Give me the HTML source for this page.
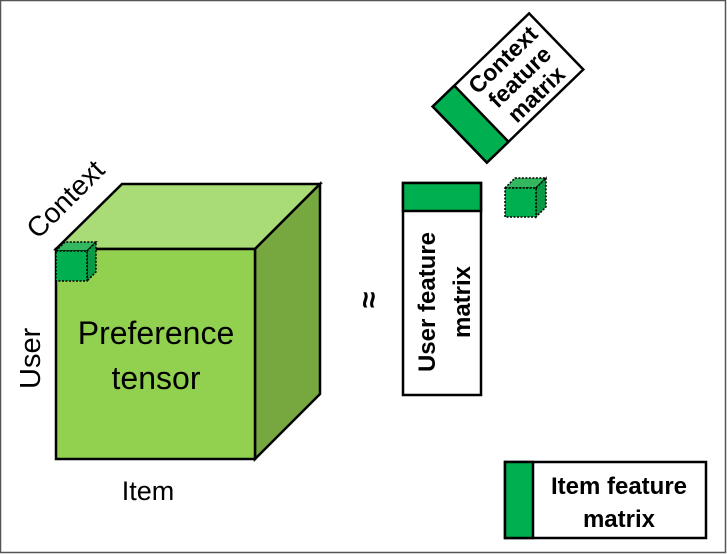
<!DOCTYPE html>
<html><head><meta charset="utf-8"><style>
html,body{margin:0;padding:0;background:#fff;}
svg{display:block;}
text{font-family:"Liberation Sans",sans-serif;}
</style></head><body>
<svg width="727" height="554" viewBox="0 0 727 554" xmlns="http://www.w3.org/2000/svg">
<rect x="0.5" y="0.5" width="725" height="552" fill="#fff" stroke="#555" stroke-width="1.5"/>
<polygon points="56,249 122,184 320,184 255,249" fill="#a9db76" stroke="#000" stroke-width="2.5"/>
<polygon points="255,249 320,184 320,394 255,459" fill="#77a83f" stroke="#000" stroke-width="2.5"/>
<rect x="56" y="249" width="199" height="210" fill="#92d050" stroke="#000" stroke-width="2.5"/>
<g stroke="#000" stroke-width="1.5" stroke-dasharray="2,1.5">
<polygon points="56,251 65,242 96,242 87,251" fill="#33b860"/>
<polygon points="87,251 96,242 96,272 87,281" fill="#0a9a45"/>
<rect x="56" y="251" width="31" height="30" fill="#00b050"/>
</g>
<text x="156" y="344" font-size="32" text-anchor="middle">Preference</text>
<text x="156" y="389" font-size="32" text-anchor="middle">tensor</text>
<text transform="translate(38,240) rotate(-45)" font-size="28">Context</text>
<text transform="translate(40,389) rotate(-90)" font-size="29">User</text>
<text x="148" y="500" font-size="27" text-anchor="middle">Item</text>
<text transform="translate(359,300) rotate(90)" font-size="30" font-weight="bold" text-anchor="middle">≈</text>
<rect x="403" y="183" width="78" height="212" fill="#fff" stroke="#000" stroke-width="2.5"/>
<rect x="403" y="183" width="78" height="28" fill="#00b050" stroke="#000" stroke-width="2.5"/>
<text transform="translate(435,302) rotate(-90)" font-size="24" font-weight="bold" text-anchor="middle">User feature</text>
<text transform="translate(470,302) rotate(-90)" font-size="24" font-weight="bold" text-anchor="middle">matrix</text>
<g stroke="#000" stroke-width="1.5" stroke-dasharray="2,1.5">
<polygon points="505,188 515,178 546,178 536,188" fill="#33b860"/>
<polygon points="536,188 546,178 546,207 536,217" fill="#0a9a45"/>
<rect x="505" y="188" width="31" height="29" fill="#00b050"/>
</g>
<g transform="translate(508,88) rotate(-44)">
<rect x="-67" y="-39" width="134" height="78" fill="#fff" stroke="#000" stroke-width="2.5"/>
<rect x="-67" y="-39" width="30" height="78" fill="#00b050" stroke="#000" stroke-width="2.5"/>
<text x="16" y="-16" font-size="23" font-weight="bold" text-anchor="middle">Context</text>
<text x="16" y="8" font-size="23" font-weight="bold" text-anchor="middle">feature</text>
<text x="16" y="32" font-size="23" font-weight="bold" text-anchor="middle">matrix</text>
</g>
<rect x="505" y="462" width="201" height="76" fill="#fff" stroke="#000" stroke-width="2.5"/>
<rect x="505" y="462" width="28" height="76" fill="#00b050" stroke="#000" stroke-width="2.5"/>
<text x="619" y="494" font-size="24" font-weight="bold" text-anchor="middle">Item feature</text>
<text x="619" y="527" font-size="24" font-weight="bold" text-anchor="middle">matrix</text>
</svg>
</body></html>
